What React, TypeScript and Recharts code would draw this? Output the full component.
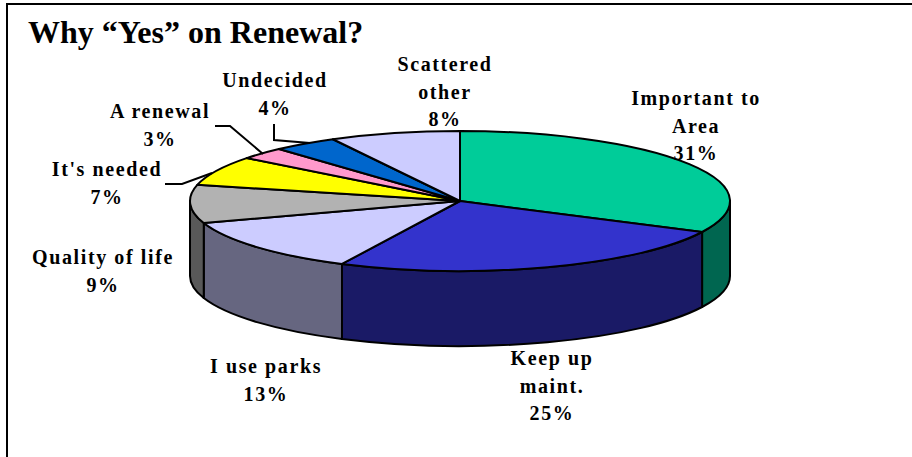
import React from 'react';
import { PieChart, Pie } from 'recharts';

const categories = [
  ['Important to', 'Area'],
  ['Keep up', 'maint.'],
  ['I use parks'],
  ['Quality of life'],
  ["It's needed"],
  ['A renewal'],
  ['Undecided'],
  ['Scattered', 'other'],
];
// printed percentages
const percentLabels = ['31%', '25%', '13%', '9%', '7%', '3%', '4%', '8%'];
const shares = [32.3, 24.9, 12.7, 8.8, 6.8, 2.8, 3.9, 7.8];

const topColors = ['#00CC99', '#3333CC', '#CCCCFF', '#B2B2B2', '#FFFF00', '#FF99CC', '#0066CC', '#CCCCFF'];
const wallColors = ['#006650', '#1A1A66', '#666680', '#595959', '#808000', '#804D66', '#003366', '#666680'];

// label anchor: centre x and first baseline
const labelAnchors = [
  [696, 105],
  [552, 365],
  [266, 373],
  [103, 264],
  [107, 176],
  [160, 118],
  [275, 87],
  [445, 71],
];
const leaderLines: Record<number, string> = {
  4: '165,184 182,184 212,173',
  5: '215,126 230,126 263,154',
  6: '274,124 274,140 310,143',
};

const WIDTH = 912;
const HEIGHT = 457;
const CX = 460;
const CY = 201;
const RX = 270;
const RY = 70;
const DEPTH = 75;
const LINE_HEIGHT = 27.5;

const tableData = shares.map((share, i) => ({
  name: categories[i].join(' '),
  share,
  fill: topColors[i],
  wall: wallColors[i],
}));

const toRad = (deg: number) => (deg * Math.PI) / 180;

const Slice3D = (props: any) => {
  const { cx, cy, outerRadius, startAngle, endAngle, fill, payload } = props;
  const rx = outerRadius;
  const ry = (outerRadius * RY) / RX;
  const pt = (deg: number, dy = 0) =>
    `${cx + rx * Math.cos(toRad(deg))},${cy - ry * Math.sin(toRad(deg)) + dy}`;

  const large = Math.abs(startAngle - endAngle) > 180 ? 1 : 0;
  const top = `M${cx},${cy} L${pt(startAngle)} A${rx},${ry} 0 ${large} 1 ${pt(endAngle)} Z`;

  // only the front half of the rim shows a wall
  const hi = Math.min(startAngle, 0);
  const lo = Math.max(endAngle, -180);
  const wall =
    hi > lo
      ? `M${pt(hi)} A${rx},${ry} 0 0 1 ${pt(lo)} L${pt(lo, DEPTH)} A${rx},${ry} 0 0 0 ${pt(hi, DEPTH)} Z`
      : null;

  return (
    <g>
      {wall && <path d={wall} fill={payload.wall} stroke="#000" strokeWidth={2} strokeLinejoin="round" />}
      <path d={top} fill={fill} stroke="#000" strokeWidth={2} strokeLinejoin="round" />
    </g>
  );
};

const SliceLabel = ({ index }: any) => {
  const [x, y] = labelAnchors[index];
  const lines = [...categories[index], percentLabels[index]];
  return (
    <g>
      {leaderLines[index] && (
        <polyline points={leaderLines[index]} fill="none" stroke="#000" strokeWidth={2} />
      )}
      <text
        textAnchor="middle"
        fontFamily="'Liberation Serif', serif"
        fontWeight="bold"
        fontSize={20}
        letterSpacing={1.6}
        fill="#000"
      >
        {lines.map((line, i) => (
          <tspan key={i} x={x} y={y + i * LINE_HEIGHT}>
            {line}
          </tspan>
        ))}
      </text>
    </g>
  );
};

export default function App() {
  return (
    <div style={{ position: 'absolute', left: 0, top: 0, width: WIDTH, height: HEIGHT, background: '#fff', overflow: 'hidden' }}>
      <div
        style={{
          position: 'absolute',
          left: 6,
          top: 3,
          width: WIDTH,
          height: HEIGHT,
          borderLeft: '2px solid #000',
          borderTop: '2px solid #000',
        }}
      />
      <div style={{ position: 'absolute', left: 0, top: 0 }}>
        <PieChart width={WIDTH} height={HEIGHT} margin={{ top: 0, right: 0, bottom: 0, left: 0 }}>
          <text x={28} y={43} fontFamily="'Liberation Serif', serif" fontWeight="bold" fontSize={32} fill="#000">
            Why “Yes” on Renewal?
          </text>
          <Pie
            data={tableData}
            dataKey="share"
            nameKey="name"
            cx={CX}
            cy={CY}
            innerRadius={0}
            outerRadius={RX}
            startAngle={90}
            endAngle={-270}
            shape={Slice3D}
            label={SliceLabel}
            labelLine={false}
            isAnimationActive={false}
          />
        </PieChart>
      </div>
    </div>
  );
}
